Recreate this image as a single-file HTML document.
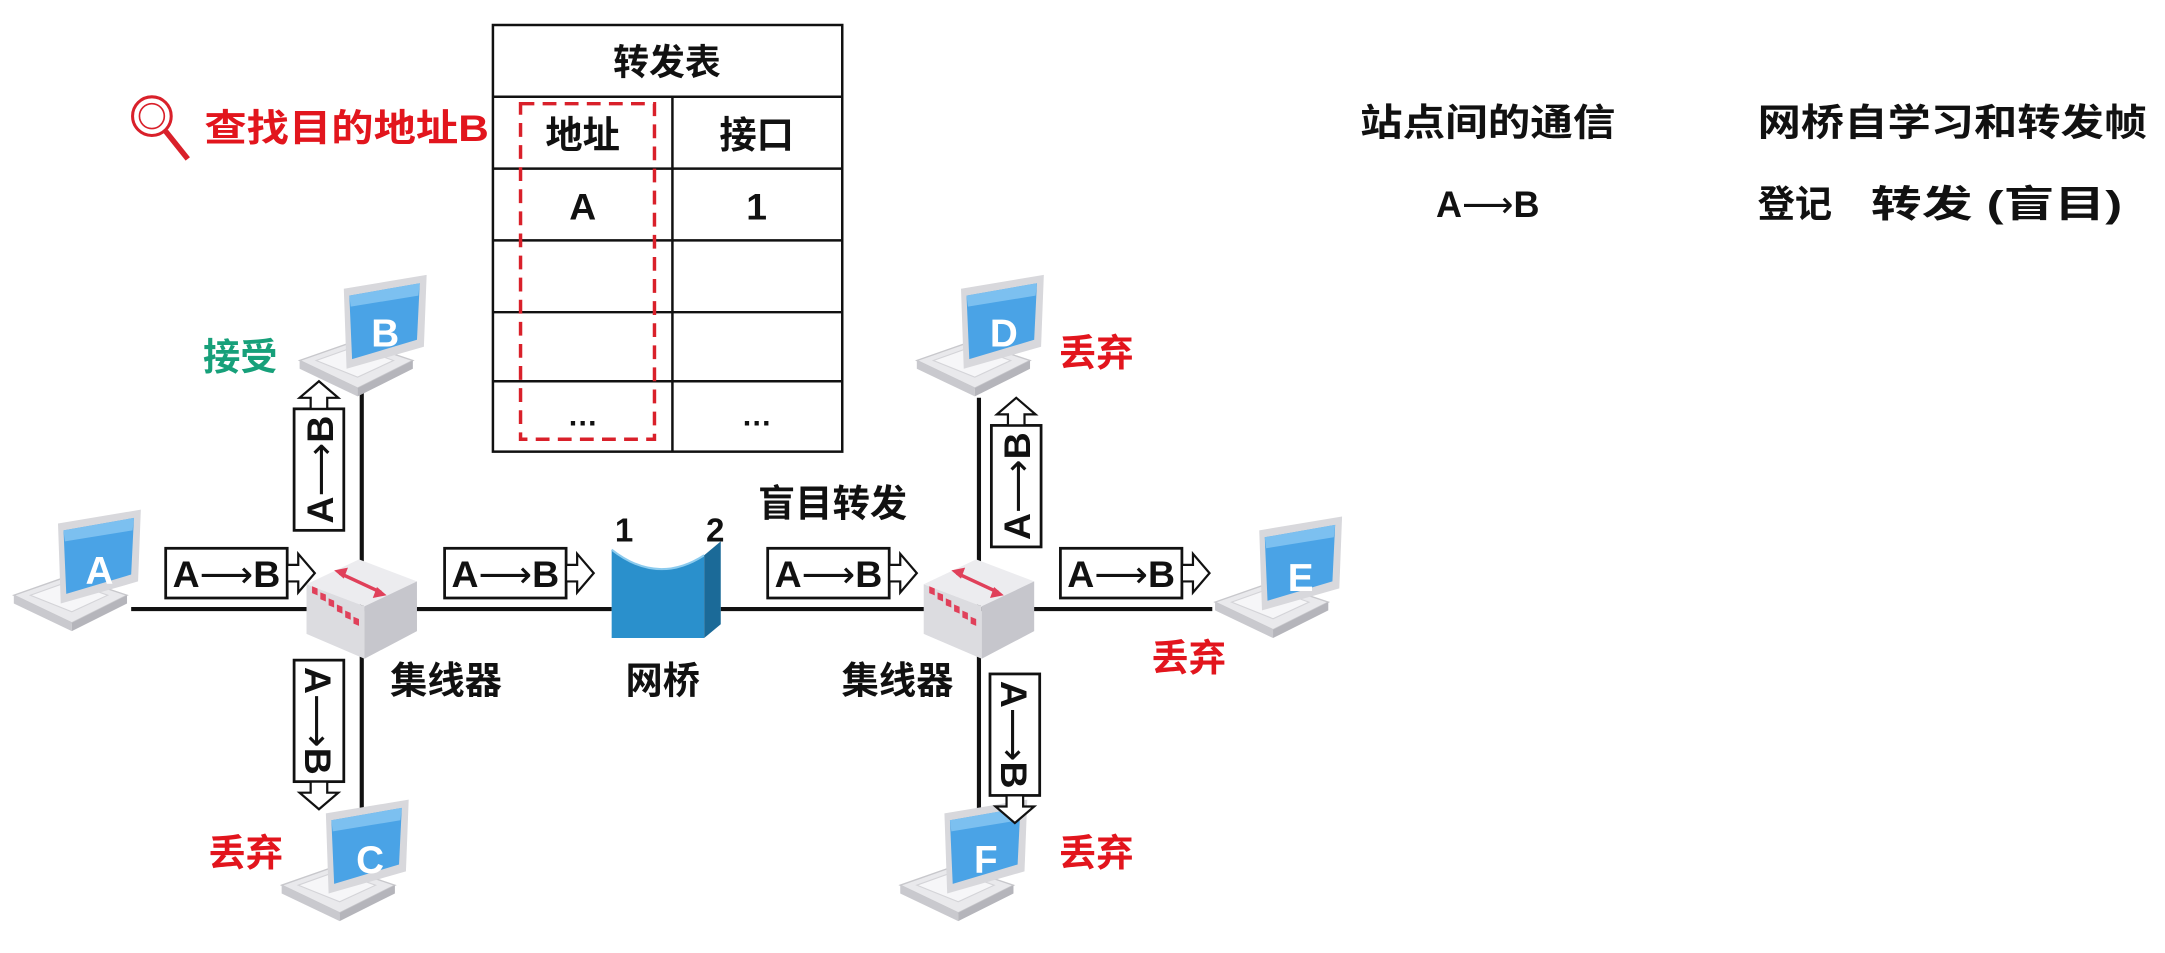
<!DOCTYPE html>
<html><head><meta charset="utf-8"><style>
html,body{margin:0;padding:0;background:#fff;}
svg{display:block;}
text{font-family:"Liberation Sans","Noto Sans CJK SC",sans-serif;font-weight:bold;}
.ar{font-family:"DejaVu Sans",sans-serif;font-weight:normal;}
</style></head><body>
<svg width="2165" height="953" viewBox="0 0 1568 690" xmlns="http://www.w3.org/2000/svg">
<defs>
<g id="lap">
  <polygon points="2,56 42,42 84,56 44,76" fill="#e9e9ec" stroke="#c8c8cc" stroke-width="1"/>
  <polygon points="2,56 44,76 44,82 2,62" fill="#c9c9ce"/>
  <polygon points="44,76 84,56 84,62 44,82" fill="#b5b5bb"/>
  <polygon points="14,56 42,46 70,56 44,68" fill="#f6f6f8" stroke="#d4d4d8" stroke-width="0.8"/>
  <polygon points="34,4 94,-6 92,46 36,62" fill="#d8d8dc"/>
  <polygon points="38,9 89,0 87,41 40,55" fill="#4aa3e6"/>
  <polygon points="38,9 89,0 88,9 39,17" fill="#7cc0f0"/>
</g>
<g id="hub">
  <polygon points="-40,-18 -2,-36 40,-20 2,-2" fill="#ececef"/>
  <polygon points="-40,-18 2,-2 2,36 -40,18" fill="#dcdce0"/>
  <polygon points="2,-2 40,-20 40,16 2,36" fill="#c6c6cc"/>
  <line x1="-16" y1="-26" x2="14" y2="-12" stroke="#e0405a" stroke-width="2.5"/>
  <polygon points="-20,-28 -10,-30 -13,-22" fill="#e0405a"/>
  <polygon points="18,-10 8,-8 11,-16" fill="#e0405a"/>
  <g fill="#e0405a">
    <rect x="-36" y="-2" width="4" height="5" transform="skewY(22)"/>
    <rect x="-30" y="0" width="4" height="5" transform="skewY(22)"/>
    <rect x="-24" y="2" width="4" height="5" transform="skewY(22)"/>
    <rect x="-18" y="4" width="4" height="5" transform="skewY(22)"/>
    <rect x="-12" y="6" width="4" height="5" transform="skewY(22)"/>
    <rect x="-6" y="8" width="4" height="5" transform="skewY(22)"/>
  </g>
</g>
<g id="abox">
  <rect x="0" y="0" width="88" height="36" fill="#fff" stroke="#111" stroke-width="2"/>
  <polygon points="88,12 96,12 96,4 108,18 96,32 96,24 88,24" fill="#fff" stroke="#111" stroke-width="1.6"/>
  <text x="44" y="28" font-size="27" text-anchor="middle" fill="#111" textLength="78" lengthAdjust="spacingAndGlyphs">A<tspan class="ar">⟶</tspan>B</text>
</g>
</defs>

<g stroke="#111" stroke-width="3">
  <line x1="95" y1="441" x2="443" y2="441"/>
  <line x1="522" y1="441" x2="878" y2="441"/>
  <line x1="262" y1="283" x2="262" y2="630"/>
  <line x1="709" y1="288" x2="709" y2="630"/>
</g>

<g stroke="#111" stroke-width="1.8" fill="none">
  <rect x="357" y="18" width="253" height="309"/>
  <line x1="357" y1="70" x2="610" y2="70"/>
  <line x1="357" y1="122" x2="610" y2="122"/>
  <line x1="357" y1="174" x2="610" y2="174"/>
  <line x1="357" y1="226" x2="610" y2="226"/>
  <line x1="357" y1="276" x2="610" y2="276"/>
  <line x1="487" y1="70" x2="487" y2="327"/>
</g>
<rect x="377" y="75" width="97" height="243" fill="none" stroke="#d9202a" stroke-width="2.5" stroke-dasharray="10,6"/>
<g fill="#111" text-anchor="middle">
  <text x="483" y="54" font-size="26">转发表</text>
  <text x="422" y="107" font-size="27">地址</text>
  <text x="548" y="107" font-size="27">接口</text>
  <text x="422" y="159" font-size="27" font-weight="normal">A</text>
  <text x="548" y="159" font-size="27" font-weight="normal">1</text>
  <text x="422" y="308" font-size="22">…</text>
  <text x="548" y="308" font-size="22">…</text>
</g>

<g stroke="#d9202a" stroke-width="2.2" fill="none">
  <circle cx="110" cy="84" r="14"/>
  <circle cx="110" cy="84" r="9" stroke-width="1.2"/>
  <line x1="120" y1="95" x2="136" y2="115" stroke-width="4"/>
</g>
<text x="148" y="102" font-size="27" fill="#e2151d" textLength="206" lengthAdjust="spacingAndGlyphs">查找目的地址B</text>

<g fill="#111" font-size="27">
  <text x="985" y="98" textLength="185" lengthAdjust="spacingAndGlyphs">站点间的通信</text>
  <text x="1040" y="157" font-weight="normal" textLength="75" lengthAdjust="spacingAndGlyphs">A<tspan class="ar">⟶</tspan>B</text>
  <text x="1273" y="98" textLength="282" lengthAdjust="spacingAndGlyphs">网桥自学习和转发帧</text>
  <text x="1273" y="157">登记</text>
  <text x="1355" y="157" textLength="182" lengthAdjust="spacingAndGlyphs">转发 (盲目)</text>
</g>

<use href="#lap" x="8" y="375"/>
<use href="#lap" x="215" y="205"/>
<use href="#lap" x="202" y="585"/>
<use href="#lap" x="662" y="205"/>
<use href="#lap" x="878" y="380"/>
<use href="#lap" x="650" y="585"/>
<g fill="#fff" font-size="28" text-anchor="middle">
  <text x="72" y="423">A</text>
  <text x="279" y="251">B</text>
  <text x="268" y="632">C</text>
  <text x="727" y="251">D</text>
  <text x="942" y="428">E</text>
  <text x="714" y="632">F</text>
</g>

<use href="#hub" x="262" y="441"/>
<use href="#hub" x="709" y="441"/>

<path d="M443,398 Q476,424 510,402 L510,462 L443,462 Z" fill="#2a90cc"/>
<path d="M443,398 Q476,424 510,402" fill="none" stroke="#8ccbee" stroke-width="1.5"/>
<path d="M510,402 L522,392 L522,452 L510,462 Z" fill="#1b6a98"/>
<text x="452" y="392" font-size="24" fill="#111" text-anchor="middle">1</text>
<text x="518" y="392" font-size="24" fill="#111" text-anchor="middle">2</text>

<use href="#abox" x="120" y="397"/>
<use href="#abox" x="322" y="397"/>
<use href="#abox" x="556" y="397"/>
<use href="#abox" x="768" y="397"/>
<use href="#abox" transform="translate(213,384) rotate(-90)"/>
<use href="#abox" transform="translate(249,478) rotate(90)"/>
<use href="#abox" transform="translate(718,396) rotate(-90)"/>
<use href="#abox" transform="translate(753,488) rotate(90)"/>

<g font-size="27" fill="#111" text-anchor="middle">
  <text x="323" y="502">集线器</text>
  <text x="480" y="502">网桥</text>
  <text x="650" y="502">集线器</text>
  <text x="603" y="374">盲目转发</text>
</g>
<text x="174" y="268" font-size="27" fill="#17a07a" text-anchor="middle">接受</text>
<g font-size="27" fill="#e2151d" text-anchor="middle">
  <text x="178" y="627">丢弃</text>
  <text x="794" y="265">丢弃</text>
  <text x="861" y="486">丢弃</text>
  <text x="794" y="627">丢弃</text>
</g>
</svg>
</body></html>
